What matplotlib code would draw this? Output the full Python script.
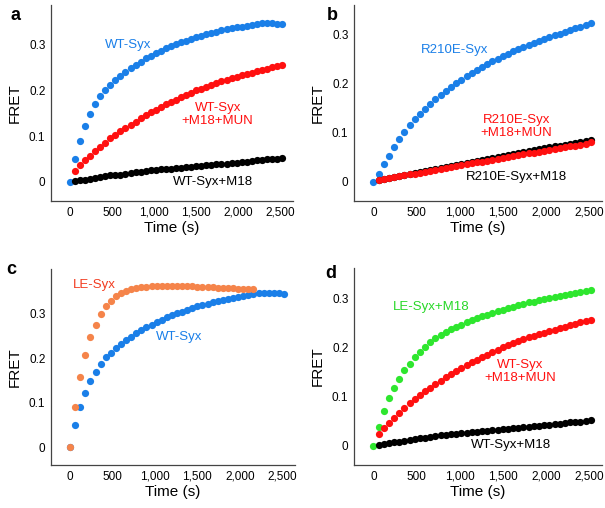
import matplotlib
matplotlib.use("Agg")
import matplotlib.pyplot as plt
from matplotlib.ticker import FuncFormatter

plt.rcParams['font.family'] = ['Liberation Sans', 'DejaVu Sans']

# sampling times (s), one reading every 60 s
time_full = [0, 60, 120, 180, 240, 300, 360, 420, 480, 540, 600, 660, 720, 780, 840,
             900, 960, 1020, 1080, 1140, 1200, 1260, 1320, 1380, 1440, 1500, 1560,
             1620, 1680, 1740, 1800, 1860, 1920, 1980, 2040, 2100, 2160, 2220, 2280,
             2340, 2400, 2460, 2520]
time_late = time_full[1:]          # series that start at 60 s
time_le = time_full[:37]           # LE-Syx stops near 2160 s

wt_syx = [0.000, 0.050, 0.090, 0.123, 0.148, 0.170, 0.188, 0.202, 0.213, 0.223, 0.232,
          0.241, 0.249, 0.256, 0.263, 0.270, 0.276, 0.282, 0.287, 0.292, 0.297, 0.301,
          0.305, 0.309, 0.313, 0.317, 0.320, 0.323, 0.326, 0.329, 0.332, 0.334, 0.336,
          0.338, 0.340, 0.342, 0.344, 0.346, 0.347, 0.347, 0.347, 0.346, 0.345]
wt_m18_mun = [0.024, 0.036, 0.047, 0.057, 0.067, 0.077, 0.086, 0.095, 0.103, 0.111, 0.118,
              0.125, 0.132, 0.139, 0.146, 0.152, 0.158, 0.164, 0.170, 0.175, 0.180, 0.185,
              0.190, 0.195, 0.200, 0.204, 0.208, 0.212, 0.216, 0.220, 0.223, 0.227, 0.230,
              0.233, 0.236, 0.239, 0.242, 0.245, 0.248, 0.251, 0.254, 0.256]
wt_m18 = [0.002, 0.004, 0.005, 0.007, 0.008, 0.010, 0.012, 0.014, 0.015, 0.016, 0.018,
          0.020, 0.021, 0.022, 0.023, 0.025, 0.026, 0.027, 0.028, 0.029, 0.030, 0.030,
          0.032, 0.033, 0.034, 0.035, 0.036, 0.036, 0.038, 0.039, 0.040, 0.041, 0.042,
          0.043, 0.044, 0.045, 0.047, 0.048, 0.049, 0.049, 0.050, 0.052]
r210e = [0.000, 0.017, 0.036, 0.053, 0.071, 0.088, 0.102, 0.115, 0.128, 0.139, 0.149,
         0.158, 0.168, 0.177, 0.185, 0.193, 0.201, 0.208, 0.215, 0.222, 0.228, 0.234,
         0.240, 0.246, 0.251, 0.256, 0.261, 0.266, 0.270, 0.275, 0.279, 0.283, 0.287,
         0.291, 0.295, 0.299, 0.302, 0.306, 0.309, 0.313, 0.316, 0.320, 0.323]
r210e_m18_mun = [0.003, 0.005, 0.007, 0.009, 0.011, 0.013, 0.015, 0.017, 0.019, 0.021, 0.023,
                 0.024, 0.026, 0.028, 0.030, 0.032, 0.034, 0.036, 0.038, 0.040, 0.041, 0.043,
                 0.045, 0.047, 0.049, 0.050, 0.052, 0.054, 0.056, 0.058, 0.059, 0.061, 0.063,
                 0.065, 0.066, 0.068, 0.070, 0.072, 0.074, 0.076, 0.078, 0.081]
r210e_m18 = [0.003, 0.006, 0.008, 0.010, 0.012, 0.014, 0.017, 0.019, 0.021, 0.023, 0.025,
             0.027, 0.029, 0.031, 0.033, 0.035, 0.037, 0.039, 0.041, 0.043, 0.045, 0.047,
             0.049, 0.051, 0.053, 0.055, 0.057, 0.059, 0.061, 0.063, 0.065, 0.066, 0.068,
             0.070, 0.072, 0.074, 0.076, 0.078, 0.080, 0.082, 0.084, 0.086]
le_syx = [0.000, 0.090, 0.158, 0.208, 0.248, 0.276, 0.300, 0.317, 0.330, 0.340, 0.347,
          0.352, 0.355, 0.358, 0.360, 0.361, 0.362, 0.363, 0.363, 0.363, 0.363, 0.363,
          0.363, 0.362, 0.362, 0.361, 0.361, 0.360, 0.360, 0.359, 0.359, 0.358, 0.358,
          0.357, 0.356, 0.356, 0.355]
le_m18 = [0.000, 0.039, 0.071, 0.097, 0.117, 0.135, 0.153, 0.167, 0.180, 0.191, 0.201,
          0.210, 0.218, 0.225, 0.231, 0.237, 0.242, 0.246, 0.251, 0.255, 0.259, 0.263,
          0.266, 0.270, 0.273, 0.276, 0.279, 0.282, 0.285, 0.288, 0.291, 0.293, 0.296,
          0.298, 0.301, 0.303, 0.305, 0.307, 0.309, 0.311, 0.313, 0.315, 0.317]

BLUE = '#1a7fe8'
RED = '#ff1010'
BLACK = '#000000'
GREEN = '#2ee62e'
ORANGE = '#f5844a'
LE_TEXT = '#f23c20'

fig = plt.figure(figsize=(6.05, 5.08), dpi=100)


def style_axis(ax, ylim, letter, letter_xy):
    ax.set_xlim(-225, 2650)
    ax.set_ylim(*ylim)
    for side in ['top', 'right']:
        ax.spines[side].set_visible(False)
    for side in ['left', 'bottom']:
        ax.spines[side].set_color('#444444')
        ax.spines[side].set_linewidth(0.9)
    ax.set_xticks([0, 500, 1000, 1500, 2000, 2500])
    ax.set_yticks([0, 0.1, 0.2, 0.3])
    ax.xaxis.set_major_formatter(FuncFormatter(lambda v, p: '{:,.0f}'.format(v)))
    ax.yaxis.set_major_formatter(FuncFormatter(lambda v, p: '0' if v == 0 else '{:.1f}'.format(v)))
    ax.tick_params(length=0, labelsize=8.5, pad=4)
    ax.set_xlabel('Time (s)', fontsize=11, labelpad=2)
    ax.set_ylabel('FRET', fontsize=11, labelpad=5)
    fig.text(letter_xy[0], letter_xy[1], letter, fontsize=13, fontweight='bold',
             ha='center', va='center')


def dots(ax, t, y, color, z=2):
    ax.plot(t, y, 'o', color=color, ms=5.2, mew=0, zorder=z)


# panel a
ax = fig.add_axes([0.0843, 0.6043, 0.400, 0.3858])
dots(ax, time_full, wt_syx, BLUE)
dots(ax, time_late, wt_m18_mun, RED)
dots(ax, time_late, wt_m18, BLACK)
ax.text(690, 0.300, 'WT-Syx', color=BLUE, fontsize=9.5, ha='center', va='center')
ax.text(1755, 0.147, 'WT-Syx\n+M18+MUN', color=RED, fontsize=9.5, ha='center', va='center',
        linespacing=1.1)
ax.text(1700, 0.0, 'WT-Syx+M18', color=BLACK, fontsize=9.5, ha='center', va='center')
style_axis(ax, (-0.042, 0.387), 'a', (0.025, 0.97))

# panel b
ax = fig.add_axes([0.5851, 0.6043, 0.4099, 0.3858])
dots(ax, time_full, r210e, BLUE)
dots(ax, time_late, r210e_m18, BLACK)
dots(ax, time_late, r210e_m18_mun, RED, z=3)
ax.text(945, 0.268, 'R210E-Syx', color=BLUE, fontsize=9.5, ha='center', va='center')
ax.text(1655, 0.112, 'R210E-Syx\n+M18+MUN', color=RED, fontsize=9.5, ha='center', va='center',
        linespacing=1.1)
ax.text(1655, 0.010, 'R210E-Syx+M18', color=BLACK, fontsize=9.5, ha='center', va='center')
style_axis(ax, (-0.039, 0.36), 'b', (0.549, 0.97))

# panel c
ax = fig.add_axes([0.0843, 0.0846, 0.4033, 0.3858])
dots(ax, time_full, wt_syx, BLUE)
dots(ax, time_le, le_syx, ORANGE)
ax.text(290, 0.364, 'LE-Syx', color=LE_TEXT, fontsize=9.5, ha='center', va='center')
ax.text(1280, 0.249, 'WT-Syx', color=BLUE, fontsize=9.5, ha='center', va='center')
style_axis(ax, (-0.04, 0.401), 'c', (0.019, 0.47))

# panel d
ax = fig.add_axes([0.5851, 0.0846, 0.4099, 0.3878])
dots(ax, time_full, le_m18, GREEN)
dots(ax, time_late, wt_m18_mun, RED)
dots(ax, time_late, wt_m18, BLACK)
ax.text(667, 0.282, 'LE-Syx+M18', color='#28d828', fontsize=9.5, ha='center', va='center')
ax.text(1700, 0.151, 'WT-Syx\n+M18+MUN', color=RED, fontsize=9.5, ha='center', va='center',
        linespacing=1.1)
ax.text(1600, 0.001, 'WT-Syx+M18', color=BLACK, fontsize=9.5, ha='center', va='center')
style_axis(ax, (-0.039, 0.361), 'd', (0.547, 0.462))

fig.savefig('out.png', dpi=100, facecolor='white')
